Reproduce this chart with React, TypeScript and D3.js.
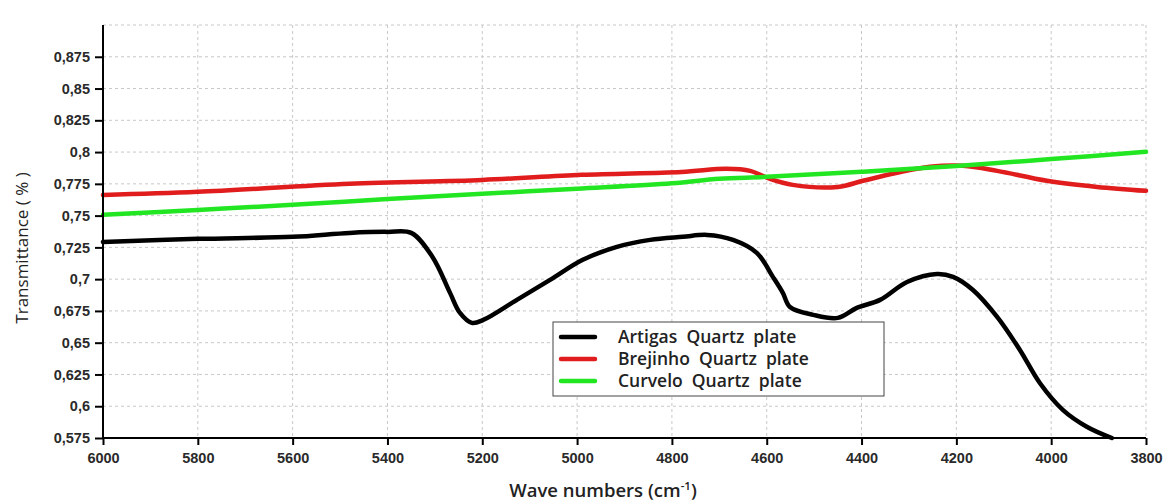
import { useRef, useEffect } from 'react'
import * as d3 from 'd3'

// wave numbers (cm-1) and transmittance
const artigasX = [6000, 5800, 5600, 5480, 5400, 5350, 5305, 5268, 5247, 5222, 5198, 5127, 5057, 4988, 4916, 4846, 4777, 4726, 4671, 4621, 4587, 4566, 4551, 4502, 4450, 4410, 4361, 4304, 4241, 4207, 4165, 4114, 4066, 4024, 3975, 3924, 3872]
const artigasY = [0.7293, 0.7317, 0.7333, 0.7364, 0.7372, 0.7364, 0.7175, 0.6892, 0.6734, 0.6656, 0.6679, 0.6837, 0.6994, 0.7152, 0.7254, 0.7309, 0.7333, 0.7348, 0.7309, 0.7207, 0.7018, 0.6892, 0.6781, 0.6719, 0.6695, 0.6774, 0.6837, 0.6978, 0.7041, 0.7018, 0.6915, 0.6703, 0.6443, 0.6183, 0.597, 0.5837, 0.575]

const brejinhoX = [6000, 5800, 5480, 5200, 4990, 4780, 4685, 4635, 4593, 4545, 4450, 4397, 4325, 4256, 4186, 4114, 4009, 3903, 3800]
const brejinhoY = [0.7663, 0.7687, 0.775, 0.7781, 0.7821, 0.7844, 0.7868, 0.7852, 0.7789, 0.7742, 0.7726, 0.7774, 0.7837, 0.7884, 0.7892, 0.7852, 0.7774, 0.7726, 0.7695]

const curveloX = [6000, 5800, 5600, 5400, 5200, 5000, 4800, 4700, 4600, 4400, 4200, 4000, 3800]
const curveloY = [0.7506, 0.7545, 0.7585, 0.763, 0.7672, 0.7712, 0.7755, 0.779, 0.7805, 0.7845, 0.789, 0.7945, 0.8002]

const seriesNames = ['Artigas  Quartz  plate', 'Brejinho  Quartz  plate', 'Curvelo  Quartz  plate']
const seriesColors = ['#000000', '#e01c1c', '#22e622']

const xTicks = [6000, 5800, 5600, 5400, 5200, 5000, 4800, 4600, 4400, 4200, 4000, 3800]
const yTicks = [0.575, 0.6, 0.625, 0.65, 0.675, 0.7, 0.725, 0.75, 0.775, 0.8, 0.825, 0.85, 0.875]

const App = () => {
  const ref = useRef(null)

  useEffect(() => {
    const totalWidth = 1166,
      totalHeight = 501,
      margin = { left: 103, top: 25, right: 20, bottom: 63 },
      width = totalWidth - margin.left - margin.right,
      height = totalHeight - margin.top - margin.bottom

    const svg = d3.select(ref.current)
    svg.attr('width', totalWidth).attr('height', totalHeight)
    svg.selectAll('*').remove()

    const x = d3.scaleLinear().domain([6000, 3800]).range([0, width])
    const y = d3.scaleLinear().domain([0.575, 0.9]).range([height, 0])

    const plot = svg.append('g')
      .attr('transform', `translate(${margin.left}, ${margin.top})`)

    // grid
    const grid = plot.append('g')
      .attr('stroke', '#c8c8c8')
      .attr('stroke-dasharray', '3,3')
      .attr('stroke-width', 1)
    grid.selectAll('.gx')
      .data(xTicks.slice(1))
      .enter()
      .append('line')
        .attr('x1', d => x(d)).attr('x2', d => x(d))
        .attr('y1', 0).attr('y2', height)
    grid.selectAll('.gy')
      .data(yTicks.slice(1).concat([0.9]))
      .enter()
      .append('line')
        .attr('x1', 0).attr('x2', width)
        .attr('y1', d => y(d)).attr('y2', d => y(d))

    // series
    const all = [
      artigasX.map((w, i) => [w, artigasY[i]]),
      brejinhoX.map((w, i) => [w, brejinhoY[i]]),
      curveloX.map((w, i) => [w, curveloY[i]])
    ]
    const line = d3.line()
      .x(d => x(d[0]))
      .y(d => y(d[1]))
      .curve(d3.curveCatmullRom)

    ;[1, 2, 0].forEach(i => {
      plot.append('path')
        .datum(all[i])
        .attr('d', line)
        .attr('fill', 'none')
        .attr('stroke', seriesColors[i])
        .attr('stroke-width', 4.5)
        .attr('stroke-linecap', 'round')
        .attr('stroke-linejoin', 'round')
    })

    // axes
    const xAxis = d3.axisBottom(x)
      .tickValues(xTicks)
      .tickSize(7)
      .tickFormat(d3.format('d'))
    const gx = plot.append('g')
      .attr('transform', `translate(0, ${height})`)
      .call(xAxis)
    const yAxis = d3.axisLeft(y)
      .tickValues(yTicks)
      .tickSize(8)
      .tickFormat(d => String(+d).replace('.', ','))
    const gy = plot.append('g').call(yAxis)

    ;[gx, gy].forEach(g => {
      g.select('.domain').attr('stroke', '#000').attr('stroke-width', 2)
      g.selectAll('.tick line').attr('stroke', '#000').attr('stroke-width', 2)
      g.selectAll('.tick text')
        .attr('fill', '#2a2a2a')
        .style('font-family', '"Liberation Sans", Arial, sans-serif')
        .style('font-size', '14.5px')
        .style('font-weight', 'bold')
    })
    gx.select('.domain').attr('d', `M0,0H${width}`)
    gx.selectAll('.tick text').attr('dy', '1.0em')
    gy.select('.domain').attr('d', `M0,${height}V0`)
    gy.selectAll('.tick text').attr('x', -13)

    // titles
    svg.append('text')
      .attr('x', 603)
      .attr('y', 497)
      .attr('text-anchor', 'middle')
      .style('font-family', '"Open Sans", sans-serif')
      .style('font-size', '18.5px')
      .style('font-weight', 600)
      .attr('fill', '#222')
      .text('Wave numbers (cm')
      .append('tspan')
        .attr('dy', -7)
        .style('font-size', '11.5px')
        .text('-1')
      .select(function () { return this.parentNode })
      .append('tspan')
        .attr('dy', 7)
        .text(')')

    svg.append('text')
      .attr('transform', 'translate(28, 248) rotate(-90)')
      .attr('text-anchor', 'middle')
      .style('font-family', '"Open Sans", sans-serif')
      .style('font-size', '17px')
      .style('font-weight', 500)
      .attr('fill', '#222')
      .text('Transmittance ( % )')

    // legend
    const legend = svg.append('g').attr('transform', 'translate(553, 322)')
    legend.append('rect')
      .attr('width', 331).attr('height', 74)
      .attr('fill', '#fff')
      .attr('stroke', '#444')
      .attr('stroke-width', 1)
    seriesNames.forEach((name, i) => {
      const row = legend.append('g').attr('transform', `translate(0, ${15 + i * 22})`)
      row.append('line')
        .attr('x1', 8).attr('x2', 42)
        .attr('stroke', seriesColors[i])
        .attr('stroke-width', 4.5)
        .attr('stroke-linecap', 'round')
      row.append('text')
        .attr('x', 65).attr('dy', '0.35em')
        .style('font-family', '"Open Sans", sans-serif')
        .style('font-size', '17.5px')
        .style('font-weight', 600)
        .style('white-space', 'pre')
        .attr('fill', '#222')
        .text(name)
    })
  }, [])

  return (
    <svg ref={ref} style={{ position: 'absolute', left: 0, top: 0, background: '#fff' }}></svg>
  )
}

export default App
